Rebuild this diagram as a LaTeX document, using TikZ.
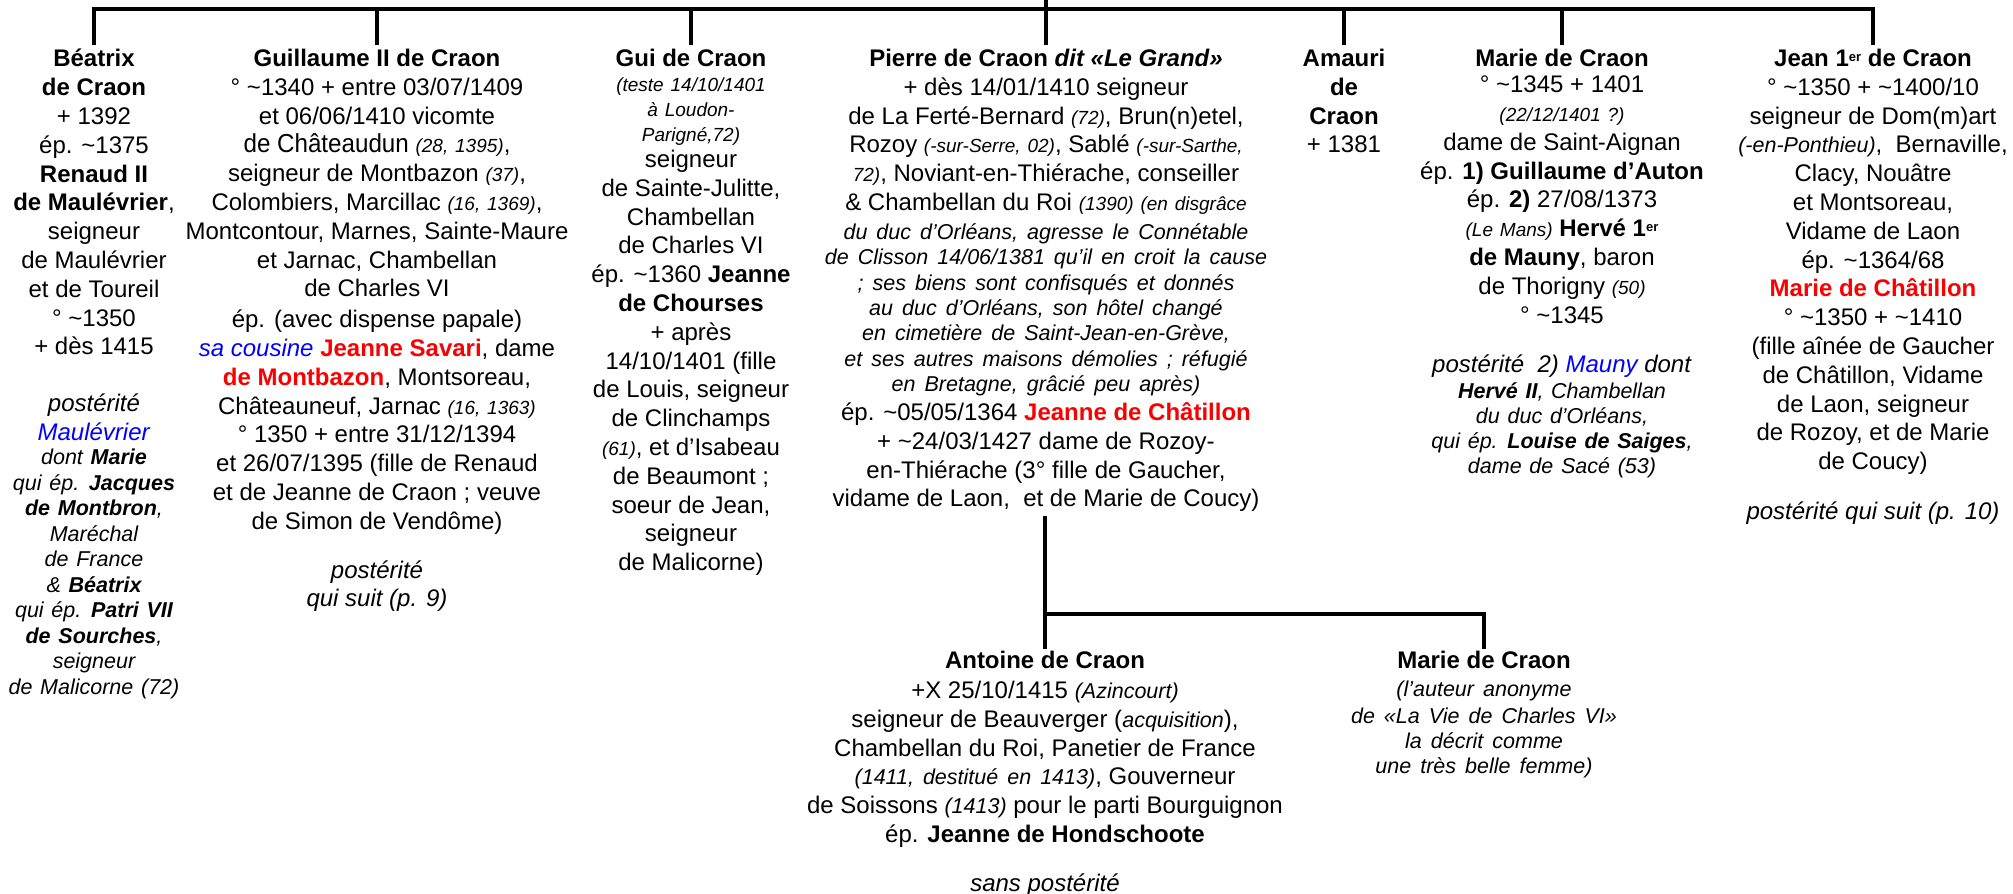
\documentclass[tikz,border=0pt]{standalone}
\usepackage{fontspec}
\setmainfont{Liberation Sans}
\usepackage{graphicx}
\definecolor{cRed}{RGB}{250,0,0}
\definecolor{cBlue}{RGB}{0,0,255}
\newcommand\mfont{\fontsize{24}{28.8}\selectfont}
\newcommand\Note[1]{{\fontsize{19}{25}\selectfont\itshape\spaceskip=.36em #1}}
\newcommand\PNote[1]{{\fontsize{21.5}{25}\selectfont\itshape\spaceskip=.42em #1}}
\newcommand\Desc[1]{{\fontsize{21.5}{25}\selectfont\itshape\spaceskip=.36em #1}}
\newcommand\Red[1]{\textcolor{cRed}{\textbf{#1}}}
\newcommand\Blu[1]{\textcolor{cBlue}{#1}}
\newcommand\tld{\textasciitilde}
\newcommand\chatfont{\fontsize{26}{28.8}\selectfont}
\newcommand\supr[1]{\raisebox{5pt}{\fontsize{13}{14}\selectfont #1}}
\tikzset{
  person/.style={anchor=north, align=center, inner sep=0pt, font=\mfont},
  link/.style={line width=3.2pt}
}
\begin{document}
\begin{tikzpicture}[x=1pt,y=-1pt]
\fill[white] (0,0) rectangle (2013,894);
\useasboundingbox (0,0) rectangle (2013,894);

% ---------- first generation ----------
\node[person] (beatrix) at (94,49) {\textbf{Béatrix}\\ \textbf{de Craon}\\ + 1392\\ ép. \tld1375\\ \textbf{Renaud II}\\ \textbf{de Maulévrier},\\ seigneur\\ de Maulévrier\\ et de Toureil\\ ° \tld1350\\ + dès 1415\\[28pt] \textit{postérité}\\ \Blu{\textit{Maulévrier}}\\[-4.5pt] \Desc{dont \textbf{Marie}}\\[-3.3pt] \Desc{qui ép. \textbf{Jacques}}\\[-3.3pt] \Desc{\textbf{de Montbron},}\\[-3.3pt] \Desc{Maréchal}\\[-3.3pt] \Desc{de France}\\[-3.3pt] \Desc{\& \textbf{Béatrix}}\\[-3.3pt] \Desc{qui ép. \textbf{Patri VII}}\\[-3.3pt] \Desc{\textbf{de Sourches},}\\[-3.3pt] \Desc{seigneur}\\[-3.3pt] \Desc{de Malicorne (72)}};

\node[person] (guillaume) at (377,49) {\textbf{Guillaume II de Craon}\\ ° \tld1340 + entre 03/07/1409\\ et 06/06/1410 vicomte\\ \scalebox{0.93}[1]{\chatfont de Châteaudun} \Note{(28, 1395)},\\ seigneur de Montbazon \Note{(37)},\\ Colombiers, Marcillac \Note{(16, 1369)},\\ Montcontour, Marnes, Sainte-Maure\\ et Jarnac, Chambellan\\ de Charles VI\\[2pt] ép. (avec dispense papale)\\ \Blu{\textit{sa cousine}} \Red{Jeanne Savari}, dame\\ \Red{de Montbazon}, Montsoreau,\\ Châteauneuf, Jarnac \Note{(16, 1363)}\\ ° 1350 + entre 31/12/1394\\ et 26/07/1395 (fille de Renaud\\ et de Jeanne de Craon ; veuve\\ de Simon de Vendôme)\\[20pt] \textit{postérité}\\ \textit{qui suit (p. 9)}};

\node[person] (gui) at (691,49) {\textbf{Gui de Craon}\\[-3.8pt] \Note{(teste 14/10/1401}\\[-3.8pt] \Note{à Loudon-}\\[-3.8pt] \Note{Parigné,72)}\\[-2.8pt] seigneur\\ de Sainte-Julitte,\\ Chambellan\\ de Charles VI\\ ép. \tld1360 \textbf{Jeanne}\\ \textbf{de Chourses}\\ + après\\ 14/10/1401 (fille\\ de Louis, seigneur\\ de Clinchamps\\ \Note{(61)}, et d’Isabeau\\ de Beaumont ;\\ soeur de Jean,\\ seigneur\\ de Malicorne)};

\node[person] (pierre) at (1046,49) {\textbf{Pierre de Craon} \textbf{\textit{dit «Le Grand»}}\\ + dès 14/01/1410 seigneur\\ de La Ferté-Bernard \Note{(72)}, Brun(n)etel,\\ Rozoy \Note{(-sur-Serre, 02)}, Sablé \Note{(-sur-Sarthe,}\\ \Note{72)}, Noviant-en-Thiérache, conseiller\\ \& Chambellan du Roi \Note{(1390) (en disgrâce}\\ \PNote{du duc d’Orléans, agresse le Connétable}\\[-3.4pt] \PNote{de Clisson 14/06/1381 qu’il en croit la cause}\\[-3.4pt] \PNote{; ses biens sont confisqués et donnés}\\[-3.4pt] \PNote{au duc d’Orléans, son hôtel changé}\\[-3.4pt] \PNote{en cimetière de Saint-Jean-en-Grève,}\\[-3.4pt] \PNote{et ses autres maisons démolies ; réfugié}\\[-3.4pt] \PNote{en Bretagne, grâcié peu après)}\\ ép. \tld05/05/1364 \Red{Jeanne de Châtillon}\\ + \tld24/03/1427 dame de Rozoy-\\ en-Thiérache (3° fille de Gaucher,\\ vidame de Laon,\ \ et de Marie de Coucy)};

\node[person] (amauri) at (1344,49) {\textbf{Amauri}\\ \textbf{de}\\ \textbf{Craon}\\ + 1381};

\node[person] (marie) at (1562,49) {\textbf{Marie de Craon}\\[-2.8pt] ° \tld1345 + 1401\\ \Note{(22/12/1401 ?)}\\[0.2pt] dame de Saint-Aignan\\ ép. \textbf{1) Guillaume d’Auton}\\ ép. \textbf{2)} 27/08/1373\\ \Note{(Le Mans)} \textbf{Hervé 1\supr{er}}\\ \textbf{de Mauny}, baron\\ de Thorigny \Note{(50)}\\ ° \tld1345\\[21pt] \textit{postérité\ \ 2) \Blu{Mauny} dont}\\[-3pt] \Desc{\textbf{Hervé II}, Chambellan}\\[-3.8pt] \Desc{du duc d’Orléans,}\\[-3.8pt] \Desc{qui ép. \textbf{Louise de Saiges},}\\[-3.8pt] \Desc{dame de Sacé (53)}};

\node[person] (jean) at (1873,49) {\textbf{Jean 1\supr{er} de Craon}\\ ° \tld1350 + \tld1400/10\\ seigneur de Dom(m)art\\ \PNote{(-en-Ponthieu)},\ \ Bernaville,\\ Clacy, Nouâtre\\ et Montsoreau,\\ Vidame de Laon\\ ép. \tld1364/68\\ \Red{Marie de Châtillon}\\ ° \tld1350 + \tld1410\\ (fille aînée de Gaucher\\ de Châtillon, Vidame\\ de Laon, seigneur\\ de Rozoy, et de Marie\\ de Coucy)\\[21pt] \textit{postérité qui suit (p. 10)}};

% ---------- second generation ----------
\node[person] (antoine) at (1045,651) {\textbf{Antoine de Craon}\\[1pt] +X 25/10/1415 \PNote{(Azincourt)}\\ seigneur de Beauverger (\PNote{acquisition}),\\ Chambellan du Roi, Panetier de France\\ \PNote{(1411, destitué en 1413)}, Gouverneur\\ de Soissons \PNote{(1413)} pour le parti Bourguignon\\ ép. \textbf{Jeanne de Hondschoote}\\[20pt] \textit{sans postérité}};

\node[person] (marieB) at (1484,651) {\textbf{Marie de Craon}\\[-1pt] \PNote{(l’auteur anonyme}\\[-1.8pt] \PNote{de «La Vie de Charles VI»}\\[-3.8pt] \PNote{la décrit comme}\\[-3.8pt] \PNote{une très belle femme)}};

% ---------- connectors ----------
\coordinate (parent) at ([yshift=49pt]pierre.north);
\draw[link] (parent) -- ([yshift=4pt]pierre.north);
\draw[link] ([yshift=4pt]beatrix.north) -- ([yshift=40pt]beatrix.north) -| ([yshift=4pt]jean.north);
\draw[link] ([yshift=4pt]guillaume.north) -- ([yshift=40pt]guillaume.north);
\draw[link] ([yshift=4pt]gui.north) -- ([yshift=40pt]gui.north);
\draw[link] ([yshift=4pt]amauri.north) -- ([yshift=40pt]amauri.north);
\draw[link] ([yshift=4pt]marie.north) -- ([yshift=40pt]marie.north);

\coordinate (pdesc) at ([yshift=-4pt]pierre.south -| antoine.north);
\coordinate (bar2) at ([yshift=37pt]antoine.north);
\draw[link] (pdesc) -- ([yshift=2pt]antoine.north);
\draw[link] (bar2) -| ([yshift=2pt]marieB.north);
\end{tikzpicture}
\end{document}
